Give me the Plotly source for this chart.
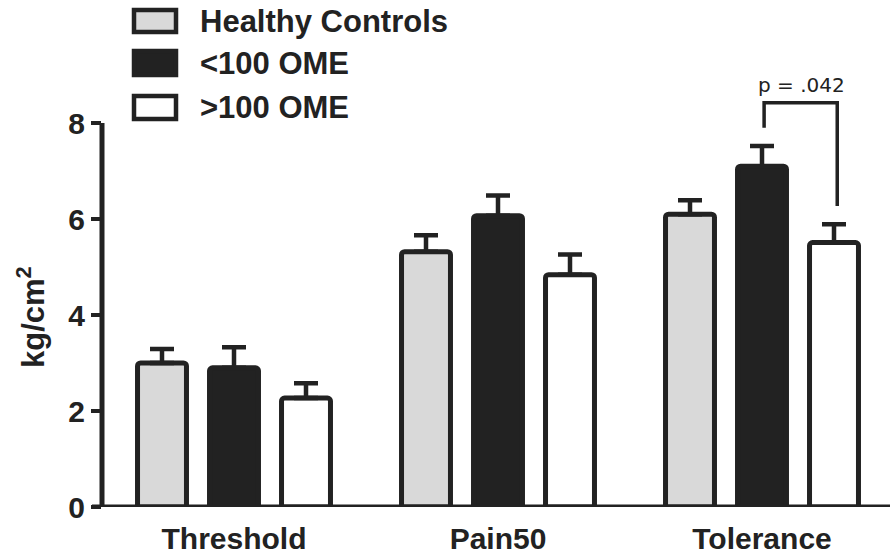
import plotly.graph_objects as go

categories = ["Threshold", "Pain50", "Tolerance"]
groups = ["Healthy Controls", "<100 OME", ">100 OME"]
hc_mean = [3.0, 5.32, 6.1]
hc_err = [0.29, 0.34, 0.29]
low_mean = [2.9, 6.07, 7.1]
low_err = [0.43, 0.42, 0.42]
high_mean = [2.27, 4.84, 5.51]
high_err = [0.31, 0.42, 0.38]
y_ticks = [0, 2, 4, 6, 8]
p_label = "p = .042"

DARK = "#222222"
fills = ["#d9d9d9", DARK, "#ffffff"]
means = [hc_mean, low_mean, high_mean]
errs = [hc_err, low_err, high_err]

W, H = 890, 558
ML, MR, MT, MB = 102, 0, 3, 51
PW, PH = W - ML - MR, H - MT - MB
YMAX = 10.5

def px_x(px):
    return (px - ML) / PW

def px_y(py):
    return (H - MB - py) / PH

fig = go.Figure()
for name, m, e, c in zip(groups, means, errs, fills):
    fig.add_trace(go.Bar(
        x=categories, y=m, name=name,
        marker=dict(color=c, line=dict(color=DARK, width=5), cornerradius=3),
        error_y=dict(type="data", array=e, arrayminus=[0] * len(e), symmetric=False,
                     thickness=4.5, width=12, color=DARK),
        showlegend=False,
    ))

shapes = []
# axis lines
shapes.append(dict(type="line", xref="paper", yref="y", x0=px_x(92), x1=1, y0=0, y1=0,
                   line=dict(color=DARK, width=5)))
shapes.append(dict(type="line", xref="paper", yref="y", x0=0, x1=0, y0=0, y1=8,
                   line=dict(color=DARK, width=5)))
# significance bracket
shapes.append(dict(type="path", xref="x", yref="y",
                   path="M 2.008 7.9 L 2.008 8.42 L 2.285 8.42 L 2.285 6.27",
                   line=dict(color=DARK, width=3.5)))

annotations = []
# legend
legend_rows = [(9, 33, 22), (50, 76, 63), (95, 120, 107)]
for (top, bot, cy), name, c in zip(legend_rows, groups, fills):
    shapes.append(dict(type="rect", xref="paper", yref="paper",
                       x0=px_x(134), x1=px_x(176), y0=px_y(bot - 1), y1=px_y(top + 1),
                       fillcolor=c, line=dict(color=DARK, width=4.5)))
    annotations.append(dict(xref="paper", yref="paper", x=px_x(198), y=px_y(cy),
                            xanchor="left", yanchor="middle", showarrow=False,
                            text=name, font=dict(family="Liberation Sans", size=31,
                                                 color=DARK, weight="bold")))
annotations.append(dict(xref="x", yref="y", x=2.148, y=8.8, text=p_label, showarrow=False,
                        xanchor="center", yanchor="middle",
                        font=dict(family="DejaVu Sans", size=20, color=DARK)))
annotations.append(dict(xref="paper", yref="paper", x=px_x(31), y=px_y(317),
                        text="kg/cm<sup>2</sup>", textangle=-90, showarrow=False,
                        xanchor="center", yanchor="middle",
                        font=dict(family="Liberation Sans", size=31, color=DARK, weight="bold")))

fig.update_layout(
    width=W, height=H,
    margin=dict(l=ML, r=MR, t=MT, b=MB, pad=0),
    paper_bgcolor="white", plot_bgcolor="white",
    barmode="group", bargap=0.1818, bargroupgap=0.32,
    shapes=shapes, annotations=annotations,
    xaxis=dict(type="category", range=[-0.5, -0.5 + PW / 264.0], showgrid=False,
               zeroline=False, showline=False, ticks="", ticklabelstandoff=11,
               tickfont=dict(family="Liberation Sans", size=30, color=DARK, weight="bold")),
    yaxis=dict(range=[0, YMAX], tickvals=y_ticks, ticktext=[str(v) for v in y_ticks],
               showgrid=False, zeroline=False, showline=False, ticks="outside",
               ticklen=10, tickwidth=4, tickcolor=DARK,
               tickfont=dict(family="Liberation Sans", size=30, color=DARK, weight="bold")),
)

fig.write_html("out.html", config={"displayModeBar": False},
               post_script="document.body.style.margin='0';document.body.style.overflow='hidden';")
